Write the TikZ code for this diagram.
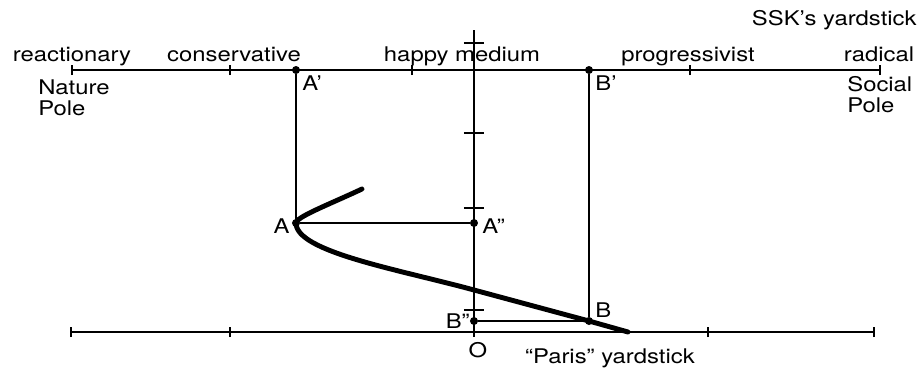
\documentclass[tikz,border=0pt]{standalone}
\usepackage{fontspec}
\setmainfont{TeX Gyre Heros}[FakeStretch=1.18]
\usetikzlibrary{positioning,calc}

\begin{document}
\begin{tikzpicture}[
    font=\fontsize{11.5}{12}\selectfont,
    axis/.style={line width=0.9pt},
    curve/.style={line width=2.8pt, line cap=round},
    dot/.style={circle, fill, inner sep=0pt, minimum size=1.6mm},
    lbl/.style={inner sep=0pt},
    poles/.style={inner sep=0pt, align=left, anchor=north west}
]
\useasboundingbox (-9.48,-0.74) rectangle (8.96,6.64);

% Yardsticks
\coordinate (nat) at (-8.04,5.24);
\coordinate (soc) at (8.12,5.24);
\coordinate (pl) at (-8.06,0);
\coordinate (pr) at (8.0,0);
\coordinate (O) at (0,0);
\coordinate (top) at (0,6.04);
\coordinate (bot) at (0,-0.1);
\draw[axis] (nat) -- (soc);
\draw[axis] (pl) -- (pr);
\draw[axis] (top) -- (bot);

% Ticks
\foreach \x in {-8.04,-4.88,-1.24,4.32,8.12}
    \draw[axis] (\x,5.14) -- (\x,5.34);
\foreach \x in {-8.06,-4.88,4.68,8.0}
    \draw[axis] (\x,-0.1) -- (\x,0.1);
\foreach \y in {5.78,3.98,2.48,0.44}
    \draw[axis] (-0.2,\y) -- (0.2,\y);

% Points
\node[dot] (Ap) at (-3.56,5.24) {};
\node[dot] (A) at (-3.56,2.18) {};
\node[dot] (App) at (0,2.18) {};
\node[dot] (Bp) at (2.3,5.24) {};
\node[dot] (B) at (2.3,0.22) {};
\node[dot] (Bpp) at (0,0.22) {};

\draw[axis] (Ap) -- (A);
\draw[axis] (A) -- (App);
\draw[axis] (Bp) -- (B);
\draw[axis] (Bpp) -- (B);

% Curve
\coordinate (cstart) at (-2.24,2.86);
\coordinate (cend) at (3.08,0);
\draw[curve] (cstart) .. controls (-2.9,2.55) and (-3.56,2.3) .. (A.center)
    .. controls (-3.56,1.6) and (-1.5,1.25) .. (0,0.84) -- (B.center) -- (cend);

% Scale labels
\node[lbl, anchor=base east] (ssk) at (8.86,6.14) {SSK's yardstick};
\node[lbl, anchor=base] (reac) at (-8.04,5.42) {reactionary};
\node[lbl, anchor=base] (cons) at (-4.8,5.42) {conservative};
\node[lbl, anchor=base] (happy) at (-0.24,5.42) {happy medium};
\node[lbl, anchor=base] (prog) at (4.28,5.42) {progressivist};
\node[lbl, anchor=base] (rad) at (8.1,5.42) {radical};
\node[poles] (nature) at (-8.72,5.06) {Nature\\Pole};
\node[poles] (social) at (7.46,5.12) {Social\\Pole};

% Point labels
\node[lbl, anchor=base west] (lAp) at (-3.44,4.84) {A'};
\node[lbl, anchor=base west] (lBp) at (2.42,4.84) {B'};
\node[lbl, anchor=base east] (lA) at (-3.68,1.98) {A};
\node[lbl, anchor=base west] (lApp) at (0.16,1.98) {A''};
\node[lbl, anchor=base west] (lB) at (2.42,0.3) {B};
\node[lbl, anchor=base east] (lBpp) at (-0.08,0.08) {B''};
\node[lbl, anchor=base] (lO) at (0.08,-0.5) {O};
\node[lbl, anchor=base] (paris) at (2.72,-0.62) {``Paris'' yardstick};

\end{tikzpicture}
\end{document}
